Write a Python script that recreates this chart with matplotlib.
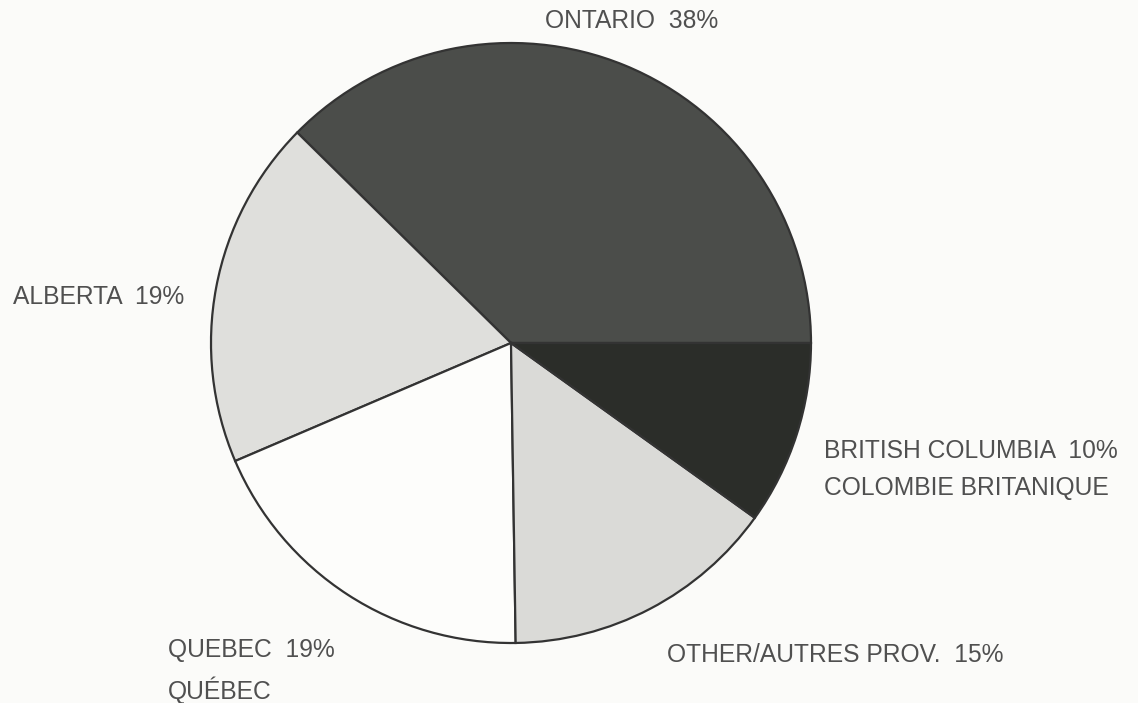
import matplotlib.pyplot as plt

provinces = ["ONTARIO", "ALBERTA", "QUEBEC", "OTHER", "BRITISH COLUMBIA"]
shares = [38, 19, 19, 15, 10]
colors = ["#4b4d4a", "#dfdfdc", "#fdfdfb", "#dadad7", "#2b2d29"]

labels = [
    ("ONTARIO  38%", 545, 19, "left"),
    ("ALBERTA  19%", 13, 294, "left"),
    ("BRITISH COLUMBIA  10%", 824, 448, "left"),
    ("COLOMBIE BRITANIQUE", 824, 485, "left"),
    ("QUEBEC  19%", 168, 647, "left"),
    ("QUÉBEC", 168, 688, "left"),
    ("OTHER/AUTRES PROV.  15%", 667, 652, "left"),
]

W, H = 1138, 703
fig = plt.figure(figsize=(W / 100, H / 100), dpi=100)
fig.patch.set_facecolor("#fbfbf9")
ax = fig.add_axes([0, 0, 1, 1])
ax.set_xlim(0, W)
ax.set_ylim(0, H)
ax.set_aspect("equal")
ax.axis("off")

ax.pie(shares, colors=colors, startangle=0, counterclock=True,
       center=(511, H - 343), radius=300,
       wedgeprops=dict(edgecolor="#333333", linewidth=1.6))
ax.set_xlim(0, W)
ax.set_ylim(0, H)

for txt, x, y, ha in labels:
    ax.text(x, H - y, txt, ha=ha, va="center_baseline", fontsize=17.7,
            family=["Liberation Sans", "DejaVu Sans"], color="#505050")

fig.savefig("out.png", dpi=100, facecolor=fig.get_facecolor())
